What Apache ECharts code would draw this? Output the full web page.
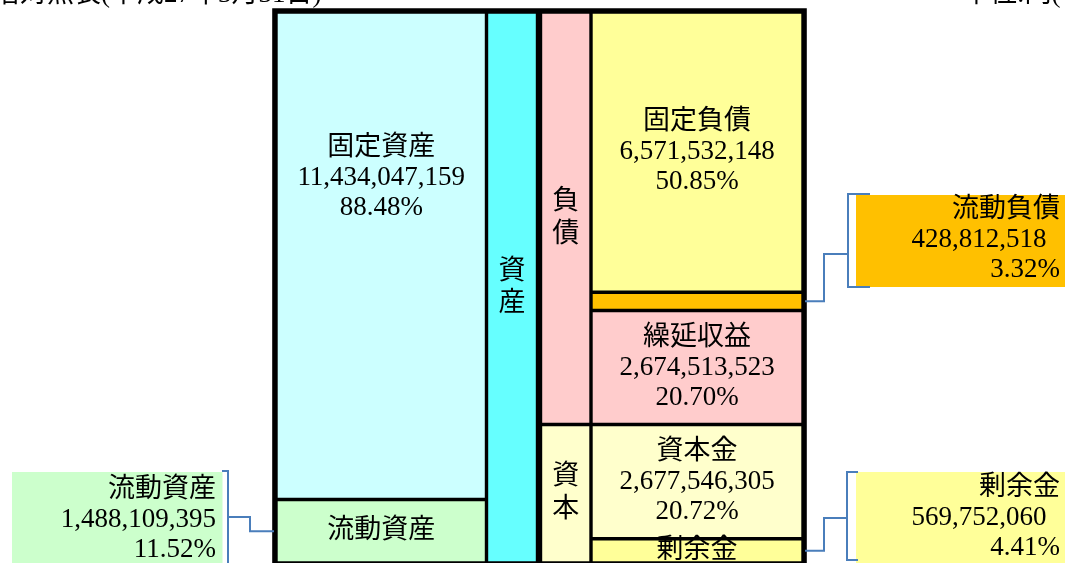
<!DOCTYPE html>
<html><head><meta charset="utf-8">
<script src="https://cdn.jsdelivr.net/npm/echarts@6/dist/echarts.min.js"></script>
<style>html,body{margin:0;padding:0;background:#fff;overflow:hidden}#c{width:1065px;height:563px}</style>
</head><body><div id="c"></div>
<script>
// ---- data ----
const titleText = '貸借対照表(平成27年3月31日)';
const unitText = '単位:円(税抜)';
const assetNames = ['固定資産', '流動資産'];
const assetValues = [11434047159, 1488109395];
const assetPercents = ['88.48%', '11.52%'];
const assetGroupName = '資産';
const claimGroupNames = ['負債', '資本'];
const claimNames = ['固定負債', '流動負債', '繰延収益', '資本金', '剰余金'];
const claimValues = [6571532148, 428812518, 2674513523, 2677546305, 569752060];
const claimPercents = ['50.85%', '3.32%', '20.70%', '20.72%', '4.41%'];
const claimGroupOf = [0, 0, 0, 1, 1];

// ---- styles ----
const FONT = "'Liberation Serif', 'Noto Sans CJK JP', serif";
const assetColors = ['#CCFFFF', '#CCFFCC'];
const assetGroupColor = '#66FFFF';
const claimGroupColors = ['#FFCCCC', '#FFFFCC'];
const claimColors = ['#FFFF99', '#FFC000', '#FFCCCC', '#FFFFCC', '#FFFF99'];
const LINE = '#4A7EBB';

const fmt = v => v.toLocaleString('en-US');
const sum = a => a.reduce((s, v) => s + v, 0);
const total = sum(assetValues);
const groupTotals = claimGroupNames.map((g, gi) => sum(claimValues.filter((v, i) => claimGroupOf[i] === gi)));

const chart = echarts.init(document.getElementById('c'), null, {renderer: 'canvas'});

const grids = [
  {left: 276, top: 12, width: 527, height: 555, show: true, backgroundColor: '#000', borderColor: '#000', borderWidth: 7.6},
  {left: 276, top: 12, width: 210.5, height: 555},
  {left: 486.5, top: 12, width: 51, height: 555},
  {left: 540.5, top: 12, width: 50.5, height: 555},
  {left: 591, top: 12, width: 212, height: 555}
];

function lbl(extra) {
  return Object.assign({show: true, position: 'inside', color: '#000', fontSize: 27, fontFamily: FONT,
    lineHeight: 30, align: 'center', verticalAlign: 'middle'}, extra);
}
function bar(gi, name, value, color, label) {
  return {type: 'bar', name, xAxisIndex: gi, yAxisIndex: gi, stack: 's' + gi, barWidth: '100%',
    data: [value], itemStyle: {color, borderColor: '#000', borderWidth: 1.7}, label, silent: true};
}
const vert = s => s.split('').join('\n');

const series = [];
series.push(bar(1, assetNames[0], assetValues[0], assetColors[0],
  lbl({position: ['50%', '34%'], formatter: assetNames[0] + '\n' + fmt(assetValues[0]) + '\n' + assetPercents[0]})));
series.push(bar(1, assetNames[1], assetValues[1], assetColors[1], lbl({formatter: assetNames[1]})));
series.push(bar(2, assetGroupName, total, assetGroupColor, lbl({formatter: vert(assetGroupName), lineHeight: 32})));
claimGroupNames.forEach((g, i) => series.push(bar(3, g, groupTotals[i], claimGroupColors[i],
  lbl({formatter: vert(g), lineHeight: 33}))));
claimNames.forEach((n, i) => {
  let label;
  if (i === 1) label = {show: false};
  else if (i === 4) label = lbl({formatter: n});
  else label = lbl({formatter: n + '\n' + fmt(claimValues[i]) + '\n' + claimPercents[i]});
  series.push(bar(4, n, claimValues[i], claimColors[i], label));
});

chart.setOption({
  animation: false,
  grid: grids,
  xAxis: grids.map((g, i) => ({type: 'category', gridIndex: i, data: ['BS'], show: false})),
  yAxis: grids.map((g, i) => ({type: 'value', gridIndex: i, min: 0, max: total, inverse: true, show: false})),
  series
});

// ---- callouts (connector ends come from the axes) ----
const midAsset1 = chart.convertToPixel({yAxisIndex: 1}, assetValues[0] + assetValues[1] / 2);
const cum = i => sum(claimValues.slice(0, i));
const midClaim1 = chart.convertToPixel({yAxisIndex: 4}, cum(1) + claimValues[1] / 2);
const midClaim4 = chart.convertToPixel({yAxisIndex: 4}, cum(4) + claimValues[4] / 2);

const txt = (x, y, text, align) => ({type: 'text', x, y, z: 10,
  style: {text, fill: '#000', fontSize: 27, fontFamily: FONT, lineHeight: 30, align, verticalAlign: 'middle'}});
const rect = (x, y, w, h, fill) => ({type: 'rect', z: 5, shape: {x, y, width: w, height: h}, style: {fill}});
const poly = pts => ({type: 'polyline', z: 8, shape: {points: pts}, style: {stroke: LINE, lineWidth: 2, fill: null}});

chart.setOption({
  graphic: [
    txt(-34, -5, titleText, 'left'),
    txt(963, -5, unitText, 'left'),
    rect(12, 472, 210.5, 100, assetColors[1]),
    txt(216, 520, assetNames[1] + '\n' + fmt(assetValues[1]) + '\n' + assetPercents[1], 'right'),
    poly([[222, 471], [228, 471], [228, 575]]),
    poly([[228, 517], [250, 517], [250, midAsset1], [274, midAsset1]]),
    rect(856, 195, 215, 92, claimColors[1]),
    txt(1060, 240, claimNames[1] + '\n' + fmt(claimValues[1]) + '  \n' + claimPercents[1], 'right'),
    poly([[870, 194], [848, 194], [848, 287], [870, 287]]),
    poly([[848, 254], [824, 254], [824, midClaim1], [805, midClaim1]]),
    rect(856, 472, 215, 100, claimColors[4]),
    txt(1060, 518, claimNames[4] + '\n' + fmt(claimValues[4]) + '  \n' + claimPercents[4], 'right'),
    poly([[858, 472], [847, 472], [847, 560], [858, 560]]),
    poly([[847, 518], [824, 518], [824, midClaim4], [805, midClaim4]])
  ]
});
</script>
</body></html>
